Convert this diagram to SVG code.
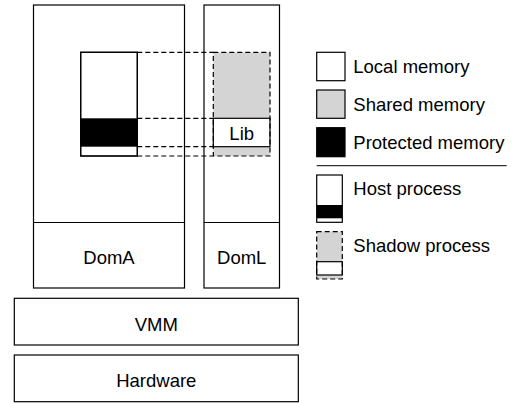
<svg xmlns="http://www.w3.org/2000/svg" width="515" height="403" viewBox="0 0 515 403">
<style>
.b{fill:#fff;stroke:#000;stroke-width:1.2}
.g{fill:#d4d4d4}
.k{fill:#000}
.d{fill:none;stroke:#000;stroke-width:1.2;stroke-dasharray:5,3}
.s{fill:none;stroke:#000;stroke-width:1.2}
text{font-family:"Liberation Sans",Arial,sans-serif;font-size:18.5px;fill:#000}
.c{text-anchor:middle}
</style>
<rect width="515" height="403" fill="#fff"/>
<g id="DomA">
<rect class="b" x="33.5" y="5" width="151" height="283"/>
<line class="s" x1="33.5" y1="222.5" x2="184.5" y2="222.5"/>
<text class="c" x="109" y="263.5">DomA</text>
</g>
<g id="DomL">
<rect class="b" x="204" y="5" width="75.5" height="283"/>
<line class="s" x1="204" y1="222.5" x2="279.5" y2="222.5"/>
<text class="c" x="241.75" y="263.5">DomL</text>
</g>
<g id="VMM">
<rect class="b" x="14.3" y="298.3" width="284" height="46.7"/>
<text class="c" x="156.3" y="330.5">VMM</text>
</g>
<g id="Hardware">
<rect class="b" x="14.3" y="355" width="284" height="46.7"/>
<text class="c" x="156.3" y="387">Hardware</text>
</g>
<g id="host">
<rect class="b" x="80.7" y="52.3" width="56.6" height="103.7"/>
<rect class="k" x="80.7" y="118.3" width="56.6" height="28.4"/>
<rect class="s" x="80.7" y="52.3" width="56.6" height="103.7"/>
</g>
<g id="shadow">
<rect class="g" x="213.3" y="52.3" width="56.7" height="103.7"/>
<rect class="b" x="213.3" y="118.3" width="56.7" height="28.4"/>
<text class="c" x="241.7" y="139.5">Lib</text>
<rect class="d" x="213.3" y="52.3" width="56.7" height="103.7"/>
</g>
<g id="connectors">
<line class="d" x1="137.3" y1="52.3" x2="213.3" y2="52.3"/>
<line class="d" x1="137.3" y1="118.3" x2="213.3" y2="118.3"/>
<line class="d" x1="137.3" y1="146.7" x2="213.3" y2="146.7"/>
<line class="d" x1="137.3" y1="156" x2="213.3" y2="156"/>
</g>
<g id="legend">
<rect class="b" x="316.7" y="52.3" width="28.3" height="28.4"/>
<text x="353.3" y="72.5">Local memory</text>
<rect class="b" x="316.7" y="90" width="28.3" height="28.3" style="fill:#d4d4d4"/>
<text x="353.3" y="110.5">Shared memory</text>
<rect class="k" x="316.7" y="127.7" width="28.3" height="29" stroke="#000" stroke-width="1.2"/>
<text x="353.3" y="148.5">Protected memory</text>
<line x1="316.7" y1="165.7" x2="506.7" y2="165.7" stroke="#333" stroke-width="1.3"/>
<rect class="b" x="316.7" y="175" width="25.6" height="47.3"/>
<rect class="k" x="316.7" y="205" width="25.6" height="13.3"/>
<text x="353.3" y="195">Host process</text>
<rect class="g" x="316.7" y="231.7" width="25.6" height="47.3"/>
<rect class="b" x="316.7" y="261.7" width="25.6" height="13.3"/>
<rect class="d" x="316.7" y="231.7" width="25.6" height="47.3"/>
<text x="353.3" y="251.5">Shadow process</text>
</g>
</svg>
